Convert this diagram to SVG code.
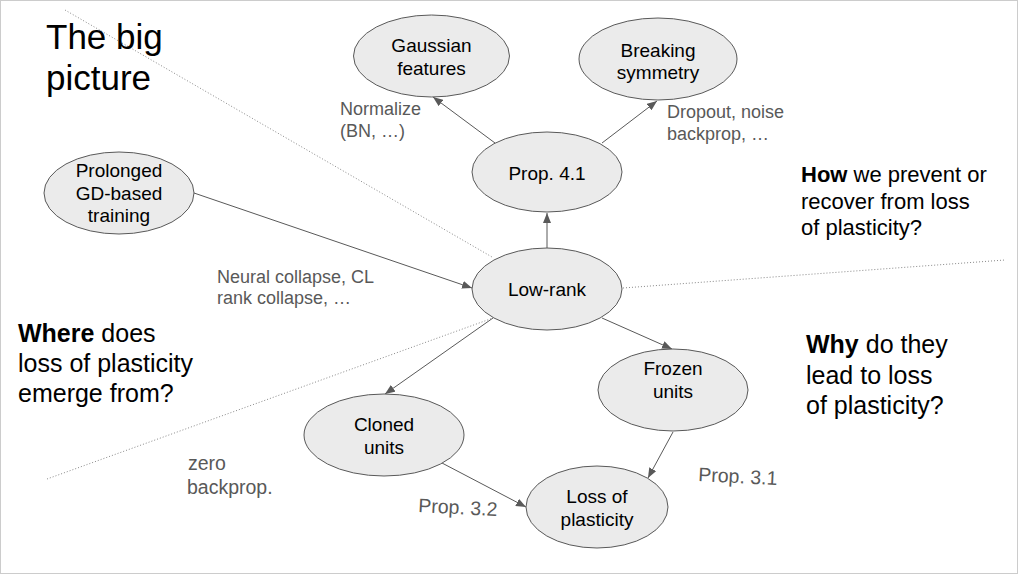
<svg xmlns="http://www.w3.org/2000/svg" width="1020" height="575" viewBox="0 0 1020 575">
<style>
.node ellipse{fill:#ebebeb;stroke:#595959;stroke-width:1}
.nt{font-family:"Liberation Sans",Arial,sans-serif;font-size:19px;fill:#000;text-anchor:middle}
.el{font-family:"Liberation Sans",Arial,sans-serif;font-size:18px;fill:#595959}
.el2{font-family:"Liberation Sans",Arial,sans-serif;font-size:19.5px;fill:#595959}
.big{font-family:"Liberation Sans",Arial,sans-serif;fill:#000}
.dot{stroke:#888;stroke-width:1;stroke-dasharray:1 2;fill:none}
.edge{stroke:#595959;stroke-width:1;fill:none;marker-end:url(#ah)}
</style>
<defs>
<marker id="ah" markerUnits="userSpaceOnUse" markerWidth="11" markerHeight="8" refX="10" refY="4" orient="auto">
<path d="M0,0 L10,4 L0,8 z" fill="#595959"/>
</marker>
</defs>
<rect x="0" y="0" width="1020" height="575" fill="#fff"/>
<rect x="0.5" y="0.5" width="1017" height="573" fill="none" stroke="#cccccc" stroke-width="1"/>
<g id="dividers">
<line class="dot" x1="65" y1="10" x2="492" y2="257"/>
<line class="dot" x1="623" y1="288" x2="1005" y2="260"/>
<line class="dot" x1="47" y1="479" x2="493" y2="318"/>
</g>
<g id="connectors">
<line class="edge" x1="194" y1="193" x2="472" y2="288"/>
<line class="edge" x1="547" y1="248" x2="547" y2="213"/>
<line class="edge" x1="495" y1="143" x2="433" y2="97"/>
<line class="edge" x1="602" y1="143" x2="657" y2="101"/>
<line class="edge" x1="493" y1="318" x2="385" y2="394"/>
<line class="edge" x1="602" y1="318" x2="672" y2="349"/>
<line class="edge" x1="673" y1="432" x2="648" y2="478"/>
<line class="edge" x1="442" y1="463" x2="526" y2="507"/>
</g>
<g id="node-gaussian" class="node">
<ellipse cx="431.5" cy="56" rx="78" ry="41"/>
<text class="nt" x="431.5" y="52">Gaussian</text>
<text class="nt" x="431.5" y="75">features</text>
</g>
<g id="node-breaking" class="node">
<ellipse cx="658" cy="59" rx="79" ry="41"/>
<text class="nt" x="658" y="56.5">Breaking</text>
<text class="nt" x="658" y="79">symmetry</text>
</g>
<g id="node-prop41" class="node">
<ellipse cx="547" cy="172" rx="75" ry="40"/>
<text class="nt" x="547" y="179.5">Prop. 4.1</text>
</g>
<g id="node-prolonged" class="node">
<ellipse cx="119" cy="193" rx="75" ry="41"/>
<text class="nt" x="119" y="177">Prolonged</text>
<text class="nt" x="119" y="199.5">GD-based</text>
<text class="nt" x="119" y="222">training</text>
</g>
<g id="node-lowrank" class="node">
<ellipse cx="547" cy="289" rx="75" ry="41"/>
<text class="nt" x="547" y="295.5">Low-rank</text>
</g>
<g id="node-frozen" class="node">
<ellipse cx="673" cy="390" rx="75" ry="41"/>
<text class="nt" x="673" y="375">Frozen</text>
<text class="nt" x="673" y="397.5">units</text>
</g>
<g id="node-cloned" class="node">
<ellipse cx="384" cy="435" rx="80" ry="41"/>
<text class="nt" x="384" y="431">Cloned</text>
<text class="nt" x="384" y="453.5">units</text>
</g>
<g id="node-loss" class="node">
<ellipse cx="597" cy="507" rx="71" ry="41"/>
<text class="nt" x="597" y="502.5">Loss of</text>
<text class="nt" x="597" y="525.5">plasticity</text>
</g>
<g id="edge-labels">
<text class="el" x="340" y="115">Normalize</text>
<text class="el" x="340" y="137">(BN, …)</text>
<text class="el" x="667" y="118">Dropout, noise</text>
<text class="el" x="667" y="140">backprop, …</text>
<text class="el" x="217" y="283">Neural collapse, CL</text>
<text class="el" x="217" y="304">rank collapse, …</text>
<text class="el2" x="188" y="470">zero</text>
<text class="el2" x="187" y="494">backprop.</text>
<text class="el2" x="418" y="512" transform="rotate(3 418 512)">Prop. 3.2</text>
<text class="el2" x="698" y="481" transform="rotate(3 698 481)">Prop. 3.1</text>
</g>
<g id="titles">
<text class="big" x="46" y="49" font-size="35">The big</text>
<text class="big" x="46" y="90" font-size="35">picture</text>
<text class="big" x="801" y="182" font-size="22"><tspan font-weight="bold">How</tspan> we prevent or</text>
<text class="big" x="801" y="208.5" font-size="22">recover from loss</text>
<text class="big" x="801" y="235" font-size="22">of plasticity?</text>
<text class="big" x="806" y="353" font-size="25"><tspan font-weight="bold">Why</tspan> do they</text>
<text class="big" x="806" y="383.5" font-size="25">lead to loss</text>
<text class="big" x="806" y="414" font-size="25">of plasticity?</text>
<text class="big" x="18" y="342" font-size="25"><tspan font-weight="bold">Where</tspan> does</text>
<text class="big" x="18" y="372" font-size="25">loss of plasticity</text>
<text class="big" x="18" y="402" font-size="25">emerge from?</text>
</g>
</svg>
